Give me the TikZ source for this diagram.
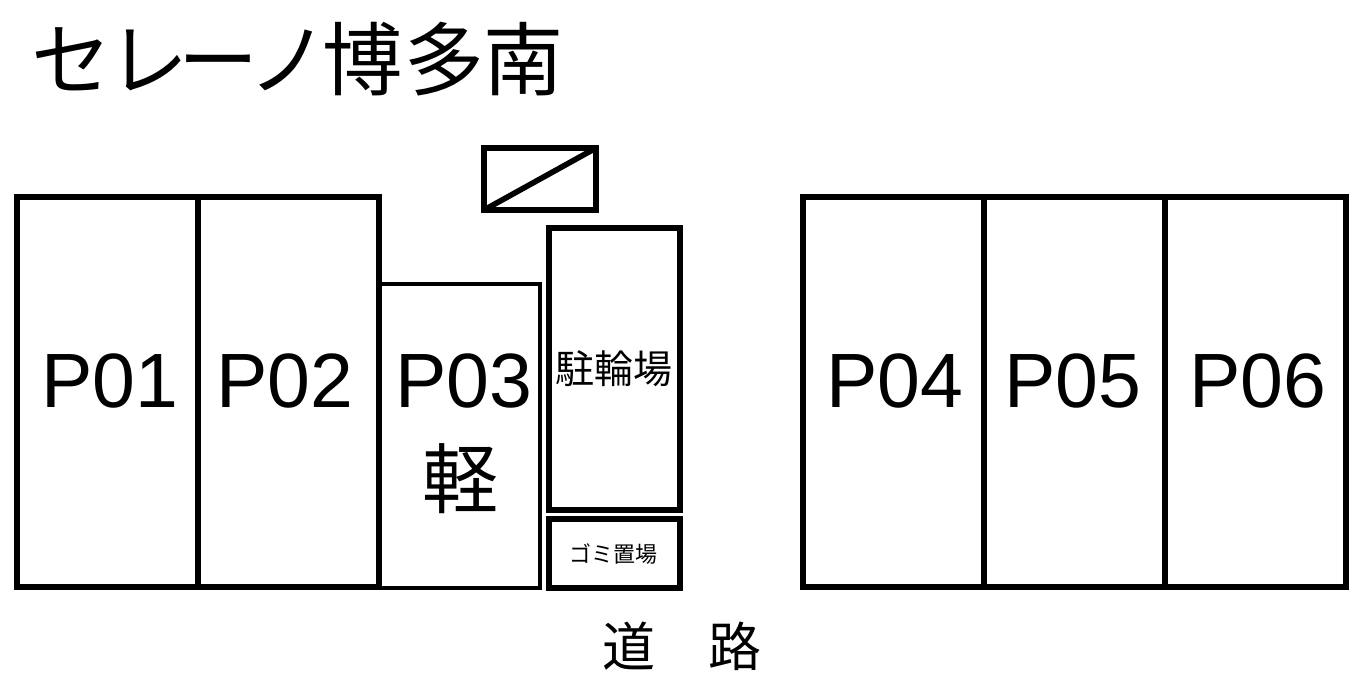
\documentclass[tikz,border=0pt]{standalone}
\usepackage{fontspec}
\setmainfont{Liberation Sans}
\newfontfamily\cjk{Noto Sans CJK JP}
\tikzset{
 thick box/.style={draw=black,line width=5.6pt,fill=none,inner sep=0pt,outer sep=0pt,anchor=north west},
 thin box/.style={draw=black,line width=4pt,fill=none,inner sep=0pt,outer sep=0pt,anchor=north west},
 lab/.style={inner sep=0pt,font=\fontsize{77}{77}\selectfont},
}
\begin{document}
\begin{tikzpicture}[x=1pt,y=-1pt]
\useasboundingbox (0,0) rectangle (1360,689);
\fill[white] (0,0) rectangle (1360,689);
\node[thin box,minimum width=160pt,minimum height=304pt] (c) at (380,284) {};
\node[thick box,minimum width=181pt,minimum height=390pt] (a) at (17,197) {};
\node[thick box,minimum width=181pt,minimum height=390pt] (b) at (198,197) {};
\node[thick box,minimum width=181pt,minimum height=390pt] (d) at (803,197) {};
\node[thick box,minimum width=181pt,minimum height=390pt] (e) at (984,197) {};
\node[thick box,minimum width=181pt,minimum height=390pt] (f) at (1165,197) {};
\node[thick box,minimum width=131pt,minimum height=282pt] (g) at (549,228) {};
\node[thick box,minimum width=131pt,minimum height=69pt] (h) at (549,519) {};
\node[thick box,minimum width=112pt,minimum height=62pt] (w) at (484,148) {};
\draw[line width=5.6pt,shorten >=1.5pt,shorten <=1.5pt] (w.south west) -- (w.north east);
\node[lab] at (110,381) {P01};
\node[lab] at (285,381) {P02};
\node[lab] at (464,381) {P03};
\node[lab] at (895,381) {P04};
\node[lab] at (1073,381) {P05};
\node[lab] at (1258,381) {P06};
\node[inner sep=0pt,font=\cjk\fontsize{80}{80}\selectfont,anchor=west] at (31,59.5) {セ\hspace{-3pt}レ\hspace{-10pt}ー\hspace{-10pt}ノ\hspace{-6pt}博\hspace{2pt}多\hspace{-1pt}南};
\node[inner sep=0pt,font=\cjk\fontsize{76}{76}\selectfont] at (460,479) {軽};
\node[inner sep=0pt,font=\cjk\fontsize{39}{39}\selectfont] at (614,369) {駐輪場};
\node[inner sep=0pt,font=\cjk\fontsize{22}{22}\selectfont] at (613,554) {ゴミ置場};
\node[inner sep=0pt,font=\cjk\fontsize{53}{53}\selectfont] at (682,646) {道　路};
\end{tikzpicture}
\end{document}
